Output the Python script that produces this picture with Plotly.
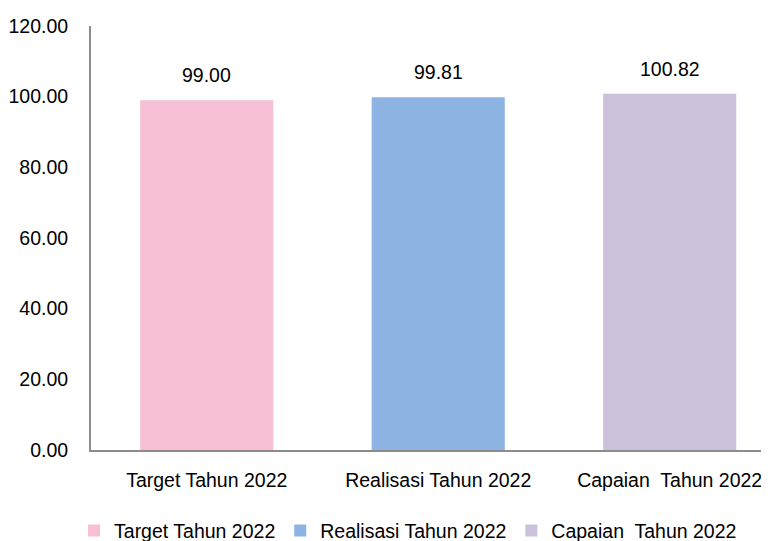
import plotly.graph_objects as go

categories = ["Target Tahun 2022", "Realisasi Tahun 2022", "Capaian  Tahun 2022"]
values = [99.00, 99.81, 100.82]
colors = ["#F6BFD5", "#8EB4E3", "#CBC1DB"]
y_ticks = [0, 20, 40, 60, 80, 100, 120]
y_tick_labels = ["0.00", "20.00", "40.00", "60.00", "80.00", "100.00", "120.00"]

FONT = "Liberation Sans Narrow, Arial Narrow, Liberation Sans, Arial, sans-serif"
FS = 19.5

fig = go.Figure()
for c, v, col in zip(categories, values, colors):
    fig.add_trace(go.Bar(x=[c], y=[v], name=c, marker=dict(color=col, line=dict(width=0)),
                         width=0.575, showlegend=True))

for c, v in zip(categories, values):
    fig.add_annotation(x=c, y=v, text=f"{v:.2f}", showarrow=False, yanchor="bottom",
                       yshift=12, font=dict(family=FONT, size=FS, color="#000000"))

# the page body adds an 8px offset, so the figure is 761x533 to fit the 769x541 window
fig.update_layout(
    width=761, height=533,
    margin=dict(l=83, r=0, t=18, b=91, autoexpand=False),
    paper_bgcolor="white", plot_bgcolor="white",
    barmode="overlay",
    font=dict(family=FONT, size=FS, color="#000000"),
    legend=dict(orientation="h", x=0.4676, xanchor="center", yref="container", y=0.019,
                yanchor="middle", font=dict(family=FONT, size=FS), itemwidth=30,
                traceorder="normal"),
    xaxis=dict(range=[-0.5, 2.429], showline=True, linecolor="#8C8C8C", linewidth=2,
               ticks="", showgrid=False, ticklabelstandoff=12, automargin=False),
    yaxis=dict(range=[0, 120], tickvals=y_ticks, ticktext=y_tick_labels, showline=True,
               linecolor="#8C8C8C", linewidth=2, ticks="", showgrid=False, zeroline=False,
               ticklabelstandoff=17, automargin=False),
)

fig.write_html("out.html")
